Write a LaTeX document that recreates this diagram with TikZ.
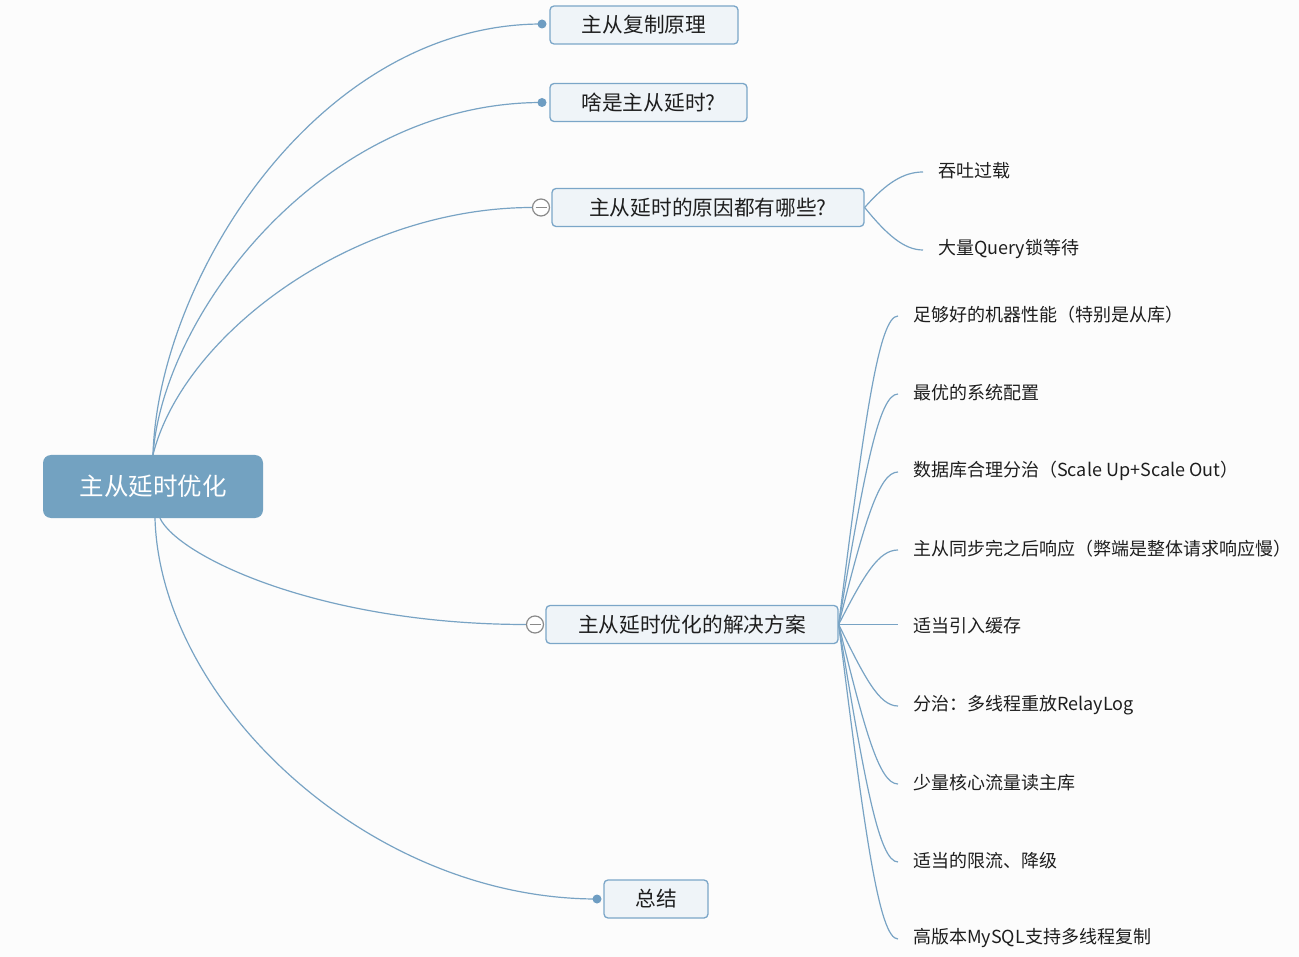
\documentclass[tikz,border=0pt]{standalone}
\usepackage{fontspec}
\newfontfamily\cjk{Noto Sans CJK SC}
\definecolor{bgc}{HTML}{FCFCFC}
\definecolor{edgec}{HTML}{78A3C4}
\definecolor{rootc}{HTML}{73A2C1}
\definecolor{boxfill}{HTML}{EFF4F8}
\definecolor{boxline}{HTML}{7BA6C8}
\definecolor{dotc}{HTML}{6E9DC2}
\definecolor{txtc}{HTML}{1E1E1E}
\definecolor{collc}{HTML}{8A8A8A}
\begin{document}
\begin{tikzpicture}[x=1pt,y=-1pt,
  edge/.style={draw=edgec,line width=1.2pt},
  rootbox/.style={fill=rootc,rounded corners=8pt,minimum width=220pt,minimum height=63pt,inner sep=0pt,text=white,font=\cjk\fontsize{24.5}{28}\selectfont},
  topic/.style={draw=boxline,line width=1.3pt,fill=boxfill,rounded corners=4pt,minimum height=38pt,inner sep=0pt,text=txtc,font=\cjk\fontsize{20.7}{24}\selectfont},
  leaf/.style={anchor=west,inner sep=0pt,text=txtc,font=\cjk\fontsize{18}{22}\selectfont},
  dotn/.style={circle,fill=dotc,minimum size=9pt,inner sep=0pt},
  coll/.style={circle,draw=collc,line width=1.2pt,fill=white,minimum size=17pt,inner sep=0pt}
]
\useasboundingbox (0,0) rectangle (1299,957);
\fill[bgc] (0,0) rectangle (1299,957);

% nodes
\node[rootbox] (root) at (153,486.5) {\raisebox{-1pt}{主从延时优化}};
\node[topic,minimum width=188pt] (n1) at (644,25) {\raisebox{-1pt}{主从复制原理}};
\node[topic,minimum width=197pt] (n2) at (648.5,102.5) {\raisebox{-1pt}{啥是主从延时?}};
\node[topic,minimum width=312pt] (n3) at (708,207.5) {\raisebox{-1pt}{主从延时的原因都有哪些?}};
\node[topic,minimum width=292pt] (n4) at (692,624.5) {\raisebox{-1pt}{主从延时优化的解决方案}};
\node[topic,minimum width=104pt] (n5) at (656,899) {\raisebox{-1pt}{总结}};

\node[leaf] (a1) at (938,171) {吞吐过载};
\node[leaf] (a2) at (938,249) {大量Query锁等待};

\node[leaf] (b1) at (913,315) {足够好的机器性能（特别是从库）};
\node[leaf] (b2) at (913,393) {最优的系统配置};
\node[leaf] (b3) at (913,471) {数据库合理分治（Scale Up+Scale Out）};
\node[leaf] (b4) at (913,549) {主从同步完之后响应（弊端是整体请求响应慢）};
\node[leaf] (b5) at (913,626) {适当引入缓存};
\node[leaf] (b6) at (913,705) {分治：多线程重放RelayLog};
\node[leaf] (b7) at (913,783) {少量核心流量读主库};
\node[leaf] (b8) at (913,861) {适当的限流、降级};
\node[leaf] (b9) at (913,938) {高版本MySQL支持多线程复制};

% connectors from root
\draw[edge] (root.north) .. controls +(5,-175) and +(-225,0) .. (542,24) coordinate (e1);
\draw[edge] (root.north) .. controls +(10,-140) and +(-220,0) .. (542,102.5) coordinate (e2);
\draw[edge] (root.north) .. controls +(30,-120) and +(-180,0) .. (532.5,207.5) coordinate (e3);
\draw[edge] ([xshift=7pt]root.south) .. controls +(18,38) and +(-207,0) .. (526.5,624.5) coordinate (e4);
\draw[edge] ([xshift=2pt]root.south) .. controls +(5,182) and +(-230,0) .. (597,899) coordinate (e5);

\node[dotn] (d1) at (e1) {};
\node[dotn] (d2) at (e2) {};
\node[dotn] (d5) at (e5) {};
\node[coll] (c3) at (541,207.5) {};
\node[coll] (c4) at (535,624.5) {};
\draw[collc,line width=1.2pt] ([xshift=-5.5pt]c3.center) -- ([xshift=5.5pt]c3.center);
\draw[collc,line width=1.2pt] ([xshift=-5.5pt]c4.center) -- ([xshift=5.5pt]c4.center);

% connectors of n3
\draw[edge] (n3.east) .. controls +(22,-25) and +(-19,0) .. ([xshift=-15pt,yshift=-1pt]a1.west);
\draw[edge] (n3.east) .. controls +(22,27) and +(-19,0) .. ([xshift=-15pt,yshift=-1pt]a2.west);

% connectors of n4
\draw[edge] (n4.east) .. controls +(26,-207) and +(-19,0) .. ([xshift=-15pt,yshift=-1pt]b1.west);
\draw[edge] (n4.east) .. controls +(26,-155) and +(-19,0) .. ([xshift=-15pt,yshift=-1pt]b2.west);
\draw[edge] (n4.east) .. controls +(26,-103) and +(-19,0) .. ([xshift=-15pt,yshift=-1pt]b3.west);
\draw[edge] (n4.east) .. controls +(26,-51) and +(-19,0) .. ([xshift=-15pt,yshift=-1pt]b4.west);
\draw[edge] (n4.east) -- (898,624.5) coordinate (e45);
\draw[edge] (n4.east) .. controls +(26,53) and +(-19,0) .. ([xshift=-15pt,yshift=-1pt]b6.west);
\draw[edge] (n4.east) .. controls +(26,105) and +(-19,0) .. ([xshift=-15pt,yshift=-1pt]b7.west);
\draw[edge] (n4.east) .. controls +(26,157) and +(-19,0) .. ([xshift=-15pt,yshift=-1pt]b8.west);
\draw[edge] (n4.east) .. controls +(26,208) and +(-19,0) .. ([xshift=-15pt,yshift=-1pt]b9.west);
\end{tikzpicture}
\end{document}
